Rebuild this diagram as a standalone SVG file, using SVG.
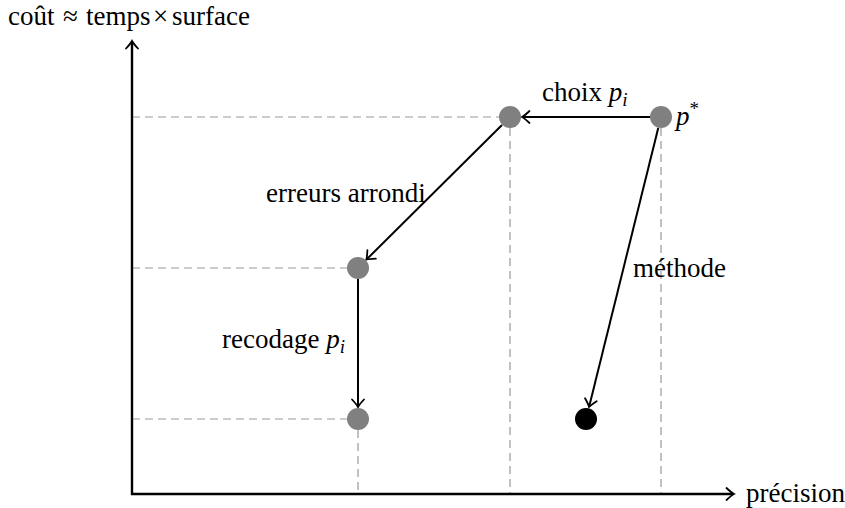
<svg xmlns="http://www.w3.org/2000/svg" width="845" height="508" viewBox="0 0 845 508">
<style>
text{font-family:"Liberation Serif","Times New Roman",serif;font-size:27px;fill:#000}
.m{font-style:italic}
.dash{stroke:#999;stroke-width:1.2;stroke-dasharray:8 5;fill:none}
.edge{stroke:#000;stroke-width:2;fill:none;marker-end:url(#arr)}
.axis{stroke:#000;stroke-width:2.4;fill:none;marker-end:url(#arr)}
.g{fill:#808080}
</style>
<defs>
<marker id="arr" markerUnits="userSpaceOnUse" orient="auto" overflow="visible" markerWidth="10" markerHeight="10">
<path d="M-6.5,-6 Q-1.5,-1.3 1,0 Q-1.5,1.3 -6.5,6" stroke="#000" stroke-width="1.8" fill="none" stroke-linecap="round"/>
</marker>
</defs>
<g id="grid">
<path class="dash" d="M132,117H499M132,268H347M132,419H347M358,430V494M510,128V494M661,128V494"/>
</g>
<g id="axes">
<path class="axis" d="M132,495V42"/>
<path class="axis" d="M131,494H733"/>
<text y="25"><tspan x="8">coût</tspan><tspan x="63">≈</tspan><tspan x="86">temps</tspan><tspan x="153">×</tspan><tspan x="172">surface</tspan></text>
<text x="746" y="502">précision</text>
</g>
<g id="connectors">
<path class="edge" d="M650,117H523"/>
<path class="edge" d="M502,125L367,259"/>
<path class="edge" d="M358,279V406"/>
<path class="edge" d="M658.3,127.7L589.3,406"/>
<text x="542" y="101">choix <tspan class="m">p</tspan><tspan class="m" font-size="19" dy="5">i</tspan></text>
<text x="266" y="202">erreurs arrondi</text>
<text x="222" y="348">recodage <tspan class="m">p</tspan><tspan class="m" font-size="19" dy="5">i</tspan></text>
<text x="633" y="277">méthode</text>
</g>
<g id="node-pstar"><circle class="g" cx="661" cy="117" r="11"/><text x="676" y="125"><tspan class="m">p</tspan><tspan font-size="19" dy="-10">*</tspan></text></g>
<g id="node-pi"><circle class="g" cx="510" cy="117" r="11"/></g>
<g id="node-mid"><circle class="g" cx="358" cy="268" r="11"/></g>
<g id="node-low"><circle class="g" cx="358" cy="419" r="11"/></g>
<g id="node-black"><circle cx="586" cy="419" r="11" fill="#000"/></g>
</svg>
